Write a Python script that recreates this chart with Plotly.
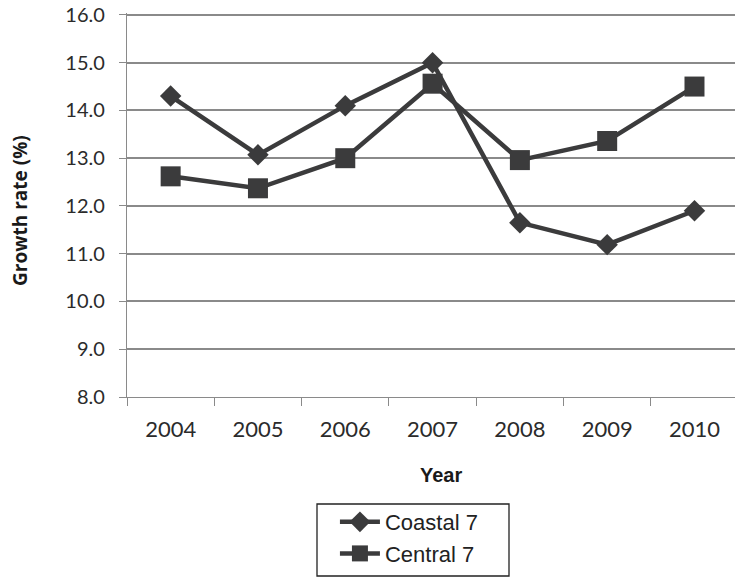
import plotly.graph_objects as go

years = ["2004", "2005", "2006", "2007", "2008", "2009", "2010"]
coastal = [14.3, 13.07, 14.1, 15.0, 11.65, 11.19, 11.9]
central = [12.62, 12.37, 13.0, 14.56, 12.96, 13.36, 14.5]
y_ticks = [8, 9, 10, 11, 12, 13, 14, 15, 16]

line_col = "#3b3b3c"
axis_col = "#8a8a8a"
fig = go.Figure()
fig.add_trace(go.Scatter(x=years, y=coastal, name="Coastal 7", mode="lines+markers",
                         line=dict(color=line_col, width=4.5),
                         marker=dict(symbol="diamond", size=16.5, color=line_col)))
fig.add_trace(go.Scatter(x=years, y=central, name="Central 7", mode="lines+markers",
                         line=dict(color=line_col, width=4.5),
                         marker=dict(symbol="square", size=20, color=line_col)))

H = 384.0  # plot height in px
fig.update_layout(
    width=735, height=577,
    margin=dict(l=127, r=0, t=13, b=180),
    plot_bgcolor="white", paper_bgcolor="white",
    font=dict(family="Lato, Open Sans, sans-serif", color="#2b2b2b", size=17),
    showlegend=True,
    legend=dict(x=0.342, y=(397 - 501) / H, xanchor="left", yanchor="top",
                borderwidth=0, bgcolor="rgba(0,0,0,0)", itemwidth=40,
                font=dict(family="Liberation Sans, Arial, sans-serif", size=22, color="#222")),
    xaxis=dict(
        type="category", range=[-0.5, 6.464], automargin=False,
        showline=True, linecolor=axis_col, linewidth=1.3,
        ticks="outside", ticklen=8, tickcolor=axis_col, tickwidth=1.3, tickson="boundaries",
        showgrid=False, tickfont=dict(size=22), ticklabelstandoff=12,
    ),
    yaxis=dict(
        range=[8, 16.04], tickvals=y_ticks, tickformat=".1f", automargin=False,
        showline=True, linecolor=axis_col, linewidth=1.3,
        ticks="outside", ticklen=7, tickcolor=axis_col, tickwidth=1.3,
        showgrid=True, gridcolor=axis_col, gridwidth=1.5,
        zeroline=False, tickfont=dict(size=20), ticklabelstandoff=10,
    ),
    annotations=[
        dict(text="<b>Growth rate (%)</b>", xref="paper", yref="paper", x=-0.177, y=(397 - 210.5) / H,
             textangle=-90, showarrow=False, xanchor="center", yanchor="middle",
             font=dict(family="Open Sans, sans-serif", size=19, color="#1a1a1a")),
        dict(text="<b>Year</b>", xref="paper", yref="paper", x=0.517, y=(397 - 474.7) / H,
             showarrow=False, xanchor="center", yanchor="middle",
             font=dict(family="Liberation Sans, Arial, sans-serif", size=20, color="#1a1a1a")),
    ],
    shapes=[
        dict(type="rect", xref="paper", yref="paper", x0=(317 - 127) / 608, x1=(509 - 127) / 608,
             y0=(397 - 504) / H, y1=(397 - 576) / H, line=dict(color="#222", width=1.3)),
    ],
)
fig.write_html("out.html", config={"displayModeBar": False},
               post_script="document.body.style.margin='0px';")
